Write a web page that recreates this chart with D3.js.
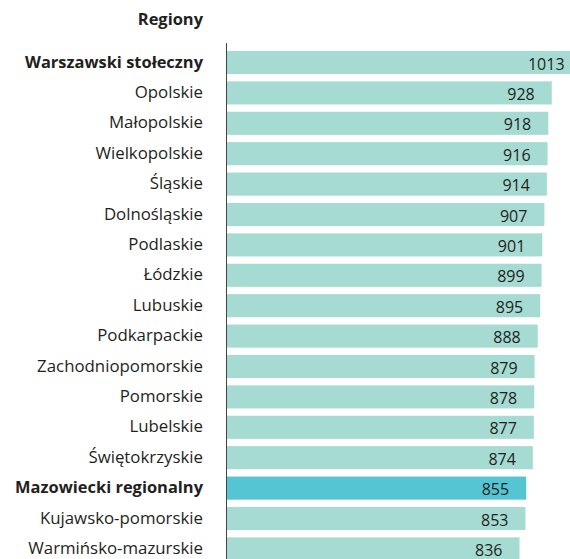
<!DOCTYPE html>
<html><head><meta charset="utf-8">
<script src="https://cdn.jsdelivr.net/npm/d3@7"></script>
<style>
html,body{margin:0;padding:0;background:#fff;}
svg{display:block;font-family:"Open Sans",sans-serif;}
</style></head>
<body>
<svg id="chart" width="570" height="559"></svg>
<script>
const categories = ["Warszawski stołeczny","Opolskie","Małopolskie","Wielkopolskie","Śląskie","Dolnośląskie","Podlaskie","Łódzkie","Lubuskie","Podkarpackie","Zachodniopomorskie","Pomorskie","Lubelskie","Świętokrzyskie","Mazowiecki regionalny","Kujawsko-pomorskie","Warmińsko-mazurskie"];
const values = [1013,928,918,916,914,907,901,899,895,888,879,878,877,874,855,853,836];
const boldCategories = ["Warszawski stołeczny","Mazowiecki regionalny"];
const highlighted = ["Mazowiecki regionalny"];
const axisTitle = "Regiony";

const svg = d3.select("#chart");
const x0 = 226.5;
const x = d3.scaleLinear().domain([0, 1000]).range([x0, x0 + 350.5]);
const y = d3.scaleBand().domain(categories).range([47.3, 47.3 + 30.4 * categories.length]).paddingInner(0.24).paddingOuter(0.12);

const txt = "#231f20";

svg.append("g").selectAll("rect").data(categories).join("rect")
  .attr("x", x(0))
  .attr("y", d => y(d))
  .attr("width", (d,i) => x(values[i]) - x(0))
  .attr("height", y.bandwidth())
  .attr("fill", d => highlighted.includes(d) ? "#56c5d3" : "#a5dbd2");

svg.append("g").selectAll("text").data(categories).join("text")
  .attr("x", (d,i) => x(values[i]) - 17)
  .attr("y", d => y(d) + y.bandwidth()/2 + 7)
  .attr("text-anchor", "end")
  .attr("font-size", 16)
  .attr("fill", txt)
  .text((d,i) => values[i]);

const labels = svg.append("g").selectAll("text").data(categories).join("text")
  .attr("x", 203)
  .attr("y", d => y(d) + y.bandwidth()/2 + 5)
  .attr("text-anchor", "end")
  .attr("font-size", 16)
  .attr("font-weight", d => boldCategories.includes(d) ? 700 : 400)
  .attr("fill", txt)
  .text(d => d);

// fit font sizes to the reference label widths
const wReg = labels.filter(d => d === "Zachodniopomorskie").node().getComputedTextLength();
const fs = 16 * 166 / wReg;
const wBold = labels.filter(d => d === "Warszawski stołeczny").node().getComputedTextLength();
const fsb = 16 * 178 / wBold;
labels.attr("font-size", d => boldCategories.includes(d) ? fsb : fs);

svg.append("text").attr("x", 203).attr("y", 24.5).attr("text-anchor","end")
  .attr("font-size", fsb).attr("font-weight", 700).attr("fill", txt).text(axisTitle);

svg.append("line").attr("x1", x0).attr("x2", x0).attr("y1", 43).attr("y2", 559)
  .attr("stroke", "#444").attr("stroke-width", 1);
</script>
</body></html>
